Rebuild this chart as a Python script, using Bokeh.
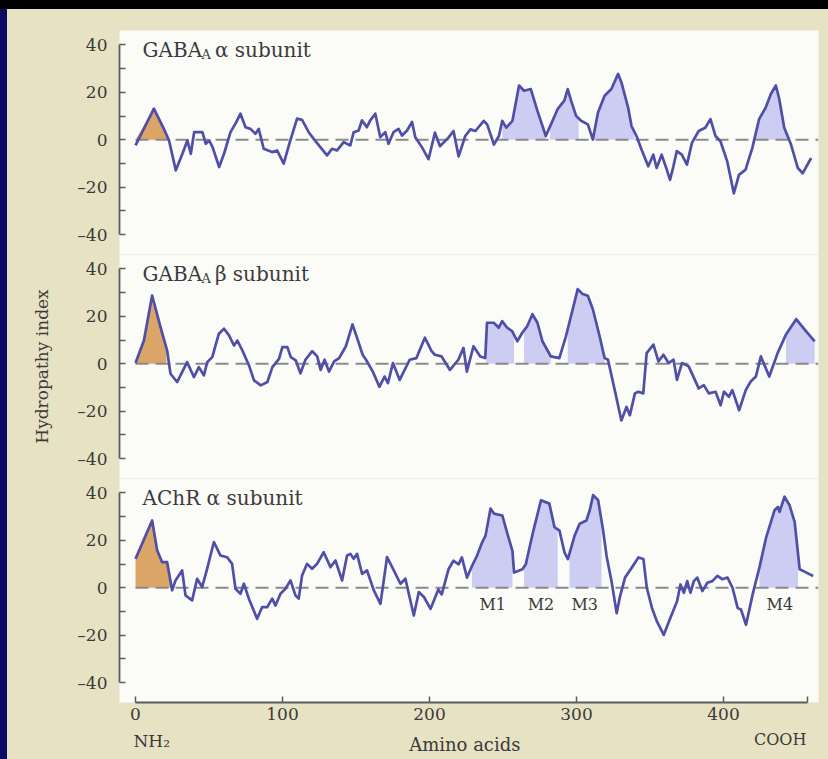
import numpy as np
from bokeh.plotting import figure
from bokeh.layouts import column
from bokeh.models import Range1d, FixedTicker, Label, GlobalInlineStyleSheet
from bokeh.core.properties import value
from bokeh.embed import file_html
from bokeh.resources import INLINE

# ---------------- data ----------------
gaba_a_x = [0, 12.5, 19.3, 22.8, 27.4, 31.9, 35.3, 37.6, 39.9, 45.5,
            47.8, 50.1, 52.4, 56.9, 60.2, 64.6, 68.0, 71.4, 74.8, 78.2,
            81.6, 83.8, 87.2, 92.9, 96.3, 100.8, 105.3, 109.9, 113.3, 117.8,
            121.2, 125.7, 130.3, 133.7, 137.1, 141.6, 146.1, 148.4, 151.8, 154.0,
            157.4, 159.7, 163.1, 166.5, 169.9, 172.1, 175.5, 178.9, 181.3, 184.7,
            188.1, 190.3, 194.8, 199.3, 203.7, 207.1, 212.9, 216.3, 219.8, 224.3,
            227.8, 231.2, 236.9, 239.2, 243.8, 247.2, 249.5, 252.2, 256.4, 260.9,
            264.3, 268.9, 273.4, 279.1, 282.6, 287.1, 291.7, 294.0, 296.3, 299.7,
            303.1, 307.7, 311.1, 314.6, 319.1, 323.7, 328.3, 330.5, 335.1, 337.4,
            340.8, 344.2, 348.8, 352.2, 354.5, 357.9, 361.4, 363.6, 365.9, 368.2,
            371.6, 375.1, 378.5, 383.1, 387.6, 391.1, 394.5, 397.9, 402.5, 407.0,
            410.5, 415.0, 419.6, 424.2, 428.7, 432.2, 435.6, 437.9, 441.3, 445.9,
            450.5, 453.9, 459.6]
gaba_a_y = [-2.4, 13.1, 4.6, -0.3, -12.9, -5.9, -0.3, -5.9, 3.2, 3.2,
            -1.7, -0.3, -3.1, -11.5, -5.9, 3.2, 6.8, 11.0, 5.3, 4.6,
            2.5, 4.6, -3.8, -5.2, -4.5, -10.1, -0.3, 8.9, 8.4, 3.2,
            0.4, -3.1, -6.6, -3.8, -4.5, -1.0, -2.4, 3.2, 3.9, 8.2,
            5.3, 8.2, 11.0, 1.1, 3.2, -1.7, 3.2, 4.6, 1.8, 3.9,
            7.5, 1.1, -3.1, -8.2, 3.0, -2.7, 0.9, 3.7, -7.0, 1.6,
            4.4, 3.7, 8.0, 6.5, -2.0, 1.6, 8.0, 5.1, 8.0, 22.9,
            20.7, 21.4, 12.2, 1.6, 6.5, 12.9, 16.5, 21.4, 16.5, 10.1,
            8.0, 6.5, 0.1, 11.5, 18.6, 21.4, 27.8, 24.3, 13.6, 5.8,
            1.6, -4.1, -11.2, -6.3, -11.9, -6.3, -12.6, -16.9, -11.2, -4.8,
            -6.3, -10.5, -1.3, 3.7, 5.1, 8.7, 1.6, -0.6, -9.1, -22.6,
            -14.8, -12.6, -3.4, 8.7, 13.6, 19.3, 22.9, 17.2, 5.1, -2.0,
            -11.9, -14.1, -7.7]

gaba_b_x = [0, 5.7, 11.3, 17.0, 21.5, 23.8, 28.3, 31.7, 35.1, 39.7,
            43.1, 46.5, 48.8, 52.2, 56.7, 60.2, 63.6, 67.0, 69.3, 72.7,
            77.2, 80.6, 85.2, 89.7, 93.1, 97.6, 99.9, 103.3, 105.6, 109.0,
            112.2, 115.6, 120.2, 123.6, 125.9, 128.6, 131.6, 135.1, 138.5, 143.1,
            147.6, 151.1, 154.5, 156.8, 161.4, 165.9, 169.4, 171.7, 175.1, 179.7,
            186.5, 191.1, 196.8, 201.4, 203.6, 208.2, 213.9, 219.6, 223.1, 225.4,
            229.9, 234.5, 237.9, 239.1, 243.7, 247.1, 249.4, 252.8, 256.2, 259.7,
            263.1, 266.5, 270.0, 273.4, 276.8, 282.5, 288.3, 292.8, 297.4, 300.8,
            304.2, 307.7, 311.1, 315.7, 319.1, 321.4, 326.0, 330.5, 334.0, 336.3,
            339.7, 342.0, 345.4, 347.7, 352.3, 355.7, 359.1, 362.6, 366.0, 368.3,
            371.7, 376.3, 383.1, 386.6, 390.0, 394.6, 398.0, 400.3, 403.7, 406.0,
            410.6, 415.1, 418.5, 422.0, 425.4, 431.1, 436.8, 442.5, 449.4, 455.1,
            462.0]
gaba_b_y = [0.3, 9.8, 28.8, 15.5, 5.6, -4.2, -7.7, -3.5, 0.7, -5.6,
            -1.4, -4.9, 0.7, 2.8, 12.7, 14.8, 12.0, 7.7, 9.8, 5.6,
            -0.7, -7.0, -9.1, -7.7, -1.4, 2.1, 7.0, 7.0, 2.8, 1.4,
            -4.0, 1.7, 5.3, 3.1, -2.6, 1.7, -3.3, 1.0, 2.4, 7.4,
            16.6, 10.2, 3.8, 1.7, -3.3, -9.7, -5.4, -8.2, 0.3, -6.8,
            1.7, 2.4, 11.0, 5.3, 3.8, 3.1, -2.6, 1.7, 6.7, -3.3,
            7.4, 3.1, 2.4, 17.3, 17.3, 15.2, 18.0, 15.2, 13.8, 9.5,
            13.1, 15.9, 20.9, 17.3, 9.5, 3.1, 2.4, 11.6, 23.0, 31.5,
            29.4, 28.7, 23.0, 11.6, 2.4, 1.7, -11.1, -23.9, -18.2, -21.7,
            -12.5, -11.8, -12.5, 4.5, 8.1, 1.0, 3.8, 0.3, 1.7, -6.8,
            0.3, -1.1, -10.4, -9.0, -12.5, -11.8, -17.5, -11.8, -13.9, -11.1,
            -19.6, -11.1, -7.5, -5.4, 3.1, -5.4, 4.5, 12.4, 18.8, 14.5,
            9.5]

achr_x = [0, 11.3, 14.7, 18.1, 21.5, 24.9, 27.2, 31.7, 34.0, 38.5,
          41.9, 45.3, 48.7, 53.3, 57.8, 62.3, 65.7, 68.0, 71.4, 73.7,
          77.1, 82.7, 86.1, 89.5, 93.0, 95.2, 98.6, 102.0, 105.4, 108.8,
          111.0, 113.3, 116.7, 120.1, 123.5, 128.0, 132.6, 136.0, 140.5, 143.9,
          146.2, 148.4, 150.7, 154.1, 157.5, 162.1, 166.6, 171.1, 175.7, 180.2,
          183.6, 185.9, 189.3, 192.7, 196.2, 200.7, 206.0, 208.3, 212.9, 216.3,
          219.8, 222.0, 225.5, 228.9, 232.3, 235.8, 238.1, 241.5, 243.8, 249.5,
          253.0, 256.4, 257.5, 263.2, 265.5, 270.1, 275.8, 281.5, 285.0, 288.4,
          291.8, 294.1, 298.7, 302.1, 306.7, 309.0, 311.3, 314.7, 318.1, 320.4,
          323.8, 327.3, 329.6, 333.0, 337.6, 342.1, 345.5, 347.8, 351.3, 354.7,
          359.3, 363.8, 368.4, 370.7, 373.0, 375.3, 377.5, 379.8, 382.1, 385.6,
          389.0, 392.4, 395.8, 399.3, 402.7, 406.1, 409.6, 411.9, 415.3, 419.8,
          424.4, 429.0, 434.7, 437.0, 438.1, 441.5, 444.9, 448.4, 451.8, 456.4,
          460.9]
achr_y = [12.2, 28.4, 15.8, 10.8, 10.8, -1.1, 3.1, 7.3, -3.2, -5.3,
          3.8, 0.3, 8.0, 19.3, 13.6, 12.9, 10.1, -0.4, -2.5, 1.7,
          -4.6, -13.1, -8.2, -8.2, -4.6, -7.5, -2.5, -0.4, 3.1, -3.2,
          -4.6, 5.2, 10.1, 8.0, 10.1, 15.0, 8.7, 11.5, 3.1, 13.6,
          14.3, 12.2, 14.3, 5.9, 7.3, -1.1, -6.8, 12.9, 7.3, 1.7,
          3.8, -2.5, -11.7, -1.8, -3.9, -8.9, -0.7, -2.8, 7.8, 11.4,
          9.9, 12.8, 4.3, 9.2, 13.5, 19.2, 22.0, 33.4, 31.3, 30.5,
          22.7, 15.6, 6.4, 7.8, 9.9, 22.7, 36.9, 35.5, 25.6, 24.1,
          14.9, 12.1, 22.0, 27.0, 28.4, 32.7, 39.1, 36.9, 24.1, 13.5,
          2.8, -10.7, -3.6, 4.3, 8.5, 12.8, 12.1, 0.0, -8.5, -14.2,
          -19.9, -12.8, -5.7, 1.4, -2.1, 2.8, -2.1, 2.8, 4.3, -1.4,
          2.1, 2.8, 5.0, 3.6, 4.3, 0.0, -8.5, -9.2, -15.6, -2.8,
          8.5, 21.3, 32.7, 34.1, 32.0, 38.4, 34.8, 27.7, 7.8, 6.4,
          5.0]

# shaded segments (amino-acid intervals)
gaba_a_signal = [(0, 22)]
gaba_a_tm = [(249.5, 279.1), (282.0, 301.5), (311.1, 339.5), (420.0, 444.0)]
gaba_b_signal = [(0, 21)]
gaba_b_tm = [(238.6, 257.5), (264.3, 282.5), (294.0, 319.1), (442.5, 462.0)]
achr_signal = [(0, 24)]
achr_tm = [(228.9, 256.4), (264.3, 287.2), (295.2, 317.0), (424.4, 450.7)]

tm_names = ["M1", "M2", "M3", "M4"]
tm_label_x = [243.0, 275.8, 305.6, 438.3]

y_ticks = [-40, -20, 0, 20, 40]
y_tick_labels = ["\u201340", "\u201320", "0", "20", "40"]
y_minor = [-30, -10, 10, 30]
x_ticks = [0, 100, 200, 300, 400, 457]
x_tick_labels = ["0", "100", "200", "300", "400", ""]

end_labels = ["NH\u2082", "Amino acids", "COOH"]
end_label_x = [-1.4, 224.0, 438.5]

# ---------------- style ----------------
FONT = "DejaVu Serif"
BEIGE = "#e8e2c4"
WHITE = "#fbfbf8"
LINE = "#4f4fa8"
LAV = "#cdcdf3"
ORANGE = "#dba567"
DASH = "#8a8a8a"
AXIS = "#5c5c5c"
TEXT = "#3a3a3a"

W = 820
LEFT, RIGHT = 112, 9
X_START, X_END = -10.9, 464.6
Y_START, Y_END = -48.4, 46.1


def shade(p, xs, ys, a, b, color):
    xs = np.asarray(xs, dtype=float)
    ys = np.asarray(ys, dtype=float)
    inner = (xs > a) & (xs < b)
    fx = np.concatenate([[a], xs[inner], [b]])
    fy = np.concatenate([[np.interp(a, xs, ys)], ys[inner], [np.interp(b, xs, ys)]])
    fy = np.clip(fy, 0, None)
    p.varea(x=fx, y1=np.zeros_like(fx), y2=fy, fill_color=color, fill_alpha=1.0)


def panel(height, top, bottom, xs, ys, signal, tm, show_x=False, ylabel=None):
    p = figure(width=W, height=height,
               x_range=Range1d(X_START, X_END), y_range=Range1d(Y_START, Y_END),
               output_backend="svg", toolbar_location=None,
               x_axis_location="below" if show_x else None,
               min_border_left=LEFT, min_border_right=RIGHT,
               min_border_top=top, min_border_bottom=bottom,
               background_fill_color=WHITE, border_fill_color=BEIGE,
               outline_line_color=None)
    p.grid.visible = False

    for a, b in signal:
        shade(p, xs, ys, a, b, ORANGE)
    for a, b in tm:
        shade(p, xs, ys, a, b, LAV)

    p.line(x=[xs[0], X_END], y=[0, 0], line_color=DASH, line_width=2,
           line_dash="13 7")
    p.line(x=xs, y=ys, line_color=LINE, line_width=2.7, line_join="round")

    ax = p.yaxis[0]
    ax.ticker = FixedTicker(ticks=y_ticks, minor_ticks=y_minor)
    ax.bounds = (-40, 40)
    ax.major_label_overrides = {t: s for t, s in zip(y_ticks, y_tick_labels)}
    ax.axis_line_color = AXIS
    ax.axis_line_width = 1.8
    ax.major_tick_line_color = AXIS
    ax.minor_tick_line_color = AXIS
    ax.major_tick_line_width = 1.5
    ax.minor_tick_line_width = 1.5
    ax.major_tick_in = 6
    ax.major_tick_out = 0
    ax.minor_tick_in = 6
    ax.minor_tick_out = 0
    ax.major_label_standoff = 12
    ax.major_label_text_font = FONT
    ax.major_label_text_font_size = "17px"
    ax.major_label_text_color = TEXT
    if ylabel:
        ax.axis_label = ylabel
        ax.axis_label_text_font = FONT
        ax.axis_label_text_font_size = "17px"
        ax.axis_label_text_font_style = "normal"
        ax.axis_label_text_color = TEXT
        ax.axis_label_standoff = 22

    if show_x:
        xa = p.xaxis[0]
        xa.ticker = FixedTicker(ticks=x_ticks)
        xa.bounds = (x_ticks[0], x_ticks[-1])
        xa.major_label_overrides = {t: s for t, s in zip(x_ticks, x_tick_labels)}
        xa.axis_line_color = AXIS
        xa.axis_line_width = 1.8
        xa.major_tick_line_color = AXIS
        xa.major_tick_line_width = 1.5
        xa.major_tick_in = 6
        xa.major_tick_out = 0
        xa.minor_tick_line_color = None
        xa.major_label_standoff = 5
        xa.major_label_text_font = FONT
        xa.major_label_text_font_size = "17px"
        xa.major_label_text_color = TEXT
    return p


def label(p, x, y, text, size="20px", align="left", baseline="alphabetic"):
    p.add_layout(Label(x=x, y=y, text=text, text_font=FONT, text_font_size=size,
                       text_color=TEXT, text_align=align, text_baseline=baseline))


p1 = panel(245, 21, 0, gaba_a_x, gaba_a_y, gaba_a_signal, gaba_a_tm)
p2 = panel(224, 0, 0, gaba_b_x, gaba_b_y, gaba_b_signal, gaba_b_tm, ylabel="Hydropathy index")
p3 = panel(250, 0, 26, achr_x, achr_y, achr_signal, achr_tm, show_x=True)

TITLE_Y = 37.8
for p, greek in ((p1, "\u03b1 subunit"), (p2, "\u03b2 subunit")):
    label(p, 4.8, TITLE_Y, "GABA")
    label(p, 44.9, TITLE_Y - 1.9, "A", size="13px")
    label(p, 54.0, TITLE_Y, greek)
label(p3, 4.8, TITLE_Y, "AChR \u03b1 subunit")

for name, x in zip(tm_names, tm_label_x):
    label(p3, x, -7.0, name, size="16px", align="center", baseline="middle")

# strip below the x axis that carries the end / axis captions
p4 = figure(width=W, height=30, x_range=Range1d(X_START, X_END), y_range=Range1d(0, 1),
            output_backend="svg", toolbar_location=None,
            x_axis_location=None, y_axis_location=None,
            min_border_left=LEFT, min_border_right=RIGHT,
            min_border_top=0, min_border_bottom=0,
            background_fill_color=BEIGE, border_fill_color=BEIGE,
            outline_line_color=None)
p4.grid.visible = False
p4.text(x=[end_label_x[0]], y=[0.58], text=[end_labels[0]], text_font=value(FONT),
        text_font_size="17px", text_color=TEXT, text_align="left", text_baseline="middle")
p4.text(x=[end_label_x[1]], y=[0.48], text=[end_labels[1]], text_font=value(FONT),
        text_font_size="18px", text_color=TEXT, text_align="center", text_baseline="middle")
p4.text(x=[end_label_x[2]], y=[0.62], text=[end_labels[2]], text_font=value(FONT),
        text_font_size="16px", text_color=TEXT, text_align="center", text_baseline="middle")

css = GlobalInlineStyleSheet(css="""
html, body {
  margin: 0 !important;
  background:
    linear-gradient(to bottom, #000000 0px, #000000 9px, rgba(0,0,0,0) 9px),
    linear-gradient(to right, #0b0b62 0px, #0b0b62 7px, #e8e2c4 7px) !important;
}
body {
  padding: 9px 0 0 7px !important;
  box-sizing: border-box;
}
""")

layout = column(p1, p2, p3, p4, spacing=0, stylesheets=[css])

open("out.html", "w").write(file_html(layout, INLINE))
